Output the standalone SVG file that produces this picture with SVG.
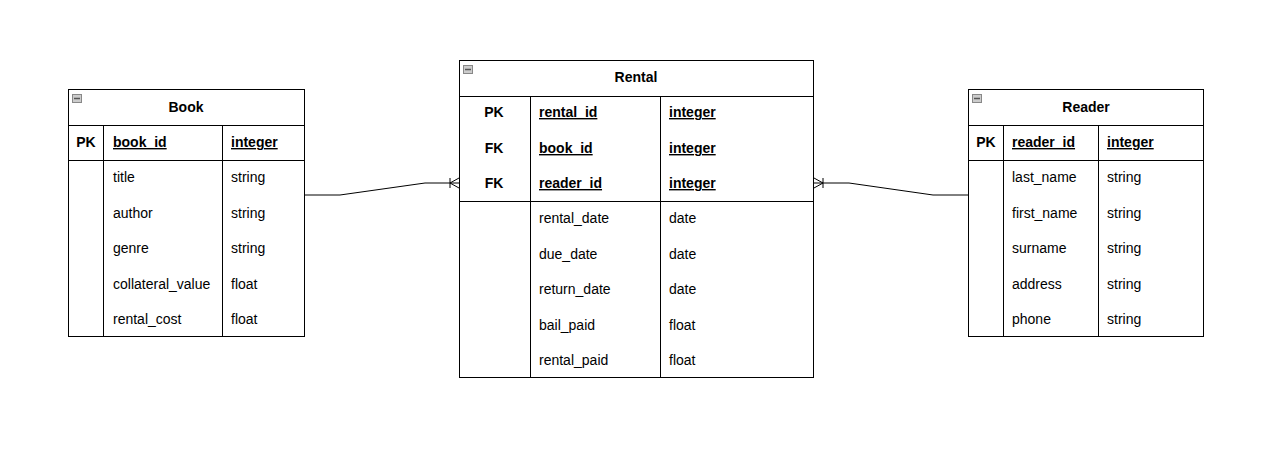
<svg xmlns="http://www.w3.org/2000/svg" width="1280" height="456" viewBox="0 0 1280 456">
<style>
.box{fill:#fff;stroke:#000;stroke-width:1}
.ln{stroke:#000;stroke-width:1;fill:none}
text{font-family:"Liberation Sans",Arial,sans-serif;font-size:14px;fill:#000}
.t{font-weight:bold;text-anchor:middle}
.k{font-weight:bold}
.u{font-weight:bold;text-decoration:underline}
.kc{font-weight:bold;text-anchor:middle}
.ic{fill:#ccc;stroke:#888;stroke-width:1}
</style>
<defs>
<g id="icon"><rect class="ic" x="0.5" y="0.5" width="9" height="8"/><line x1="2" y1="4.5" x2="8" y2="4.5" stroke="#555" stroke-width="1.5"/></g>
</defs>
<rect width="1280" height="456" fill="#fff"/>
<g id="connectors">
<path class="ln" d="M305,195 H340 L425,183 H459"/>
<path class="ln" d="M450,178 V188 M450,183 L459,178 M450,183 L459,188"/>
<path class="ln" d="M968,195 H933 L849,183 H814"/>
<path class="ln" d="M823,178 V188 M823,183 L814,178 M823,183 L814,188"/>
</g>
<g id="book">
<rect class="box" x="68.5" y="89.5" width="236" height="247"/>
<use href="#icon" x="72" y="94"/>
<line class="ln" x1="68" y1="125.5" x2="305" y2="125.5"/>
<line class="ln" x1="68" y1="160.5" x2="305" y2="160.5"/>
<line class="ln" x1="103.5" y1="125" x2="103.5" y2="337"/>
<line class="ln" x1="222.5" y1="125" x2="222.5" y2="337"/>
<text class="t" x="186" y="112">Book</text>
<text class="kc" x="86" y="147">PK</text>
<text class="u" x="113" y="147">book_id</text>
<text class="u" x="231" y="147">integer</text>
<text x="113" y="182">title</text><text x="231" y="182">string</text>
<text x="113" y="218">author</text><text x="231" y="218">string</text>
<text x="113" y="253">genre</text><text x="231" y="253">string</text>
<text x="113" y="289">collateral_value</text><text x="231" y="289">float</text>
<text x="113" y="324">rental_cost</text><text x="231" y="324">float</text>
</g>
<g id="rental">
<rect class="box" x="459.5" y="60.5" width="354" height="317"/>
<use href="#icon" x="463" y="65"/>
<line class="ln" x1="459" y1="96.5" x2="814" y2="96.5"/>
<line class="ln" x1="459" y1="201.5" x2="814" y2="201.5"/>
<line class="ln" x1="530.5" y1="96" x2="530.5" y2="378"/>
<line class="ln" x1="660.5" y1="96" x2="660.5" y2="378"/>
<text class="t" x="636" y="82">Rental</text>
<text class="kc" x="494" y="117">PK</text>
<text class="u" x="539" y="117">rental_id</text>
<text class="u" x="669" y="117">integer</text>
<text class="kc" x="494" y="153">FK</text>
<text class="u" x="539" y="153">book_id</text>
<text class="u" x="669" y="153">integer</text>
<text class="kc" x="494" y="188">FK</text>
<text class="u" x="539" y="188">reader_id</text>
<text class="u" x="669" y="188">integer</text>
<text x="539" y="223">rental_date</text><text x="669" y="223">date</text>
<text x="539" y="259">due_date</text><text x="669" y="259">date</text>
<text x="539" y="294">return_date</text><text x="669" y="294">date</text>
<text x="539" y="330">bail_paid</text><text x="669" y="330">float</text>
<text x="539" y="365">rental_paid</text><text x="669" y="365">float</text>
</g>
<g id="reader">
<rect class="box" x="968.5" y="89.5" width="235" height="247"/>
<use href="#icon" x="972" y="94"/>
<line class="ln" x1="968" y1="125.5" x2="1204" y2="125.5"/>
<line class="ln" x1="968" y1="160.5" x2="1204" y2="160.5"/>
<line class="ln" x1="1003.5" y1="125" x2="1003.5" y2="337"/>
<line class="ln" x1="1098.5" y1="125" x2="1098.5" y2="337"/>
<text class="t" x="1086" y="112">Reader</text>
<text class="kc" x="986" y="147">PK</text>
<text class="u" x="1012" y="147">reader_id</text>
<text class="u" x="1107" y="147">integer</text>
<text x="1012" y="182">last_name</text><text x="1107" y="182">string</text>
<text x="1012" y="218">first_name</text><text x="1107" y="218">string</text>
<text x="1012" y="253">surname</text><text x="1107" y="253">string</text>
<text x="1012" y="289">address</text><text x="1107" y="289">string</text>
<text x="1012" y="324">phone</text><text x="1107" y="324">string</text>
</g>
</svg>
